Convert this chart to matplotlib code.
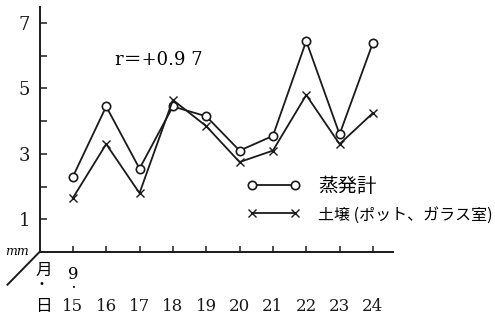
import matplotlib
matplotlib.use("Agg")
import matplotlib.pyplot as plt

# 9月15日～24日の蒸発量 (mm)
days = [15, 16, 17, 18, 19, 20, 21, 22, 23, 24]
evaporimeter = [2.3, 4.45, 2.55, 4.45, 4.15, 3.1, 3.55, 6.45, 3.6, 6.4]
soil_pot = [1.65, 3.3, 1.8, 4.65, 3.85, 2.75, 3.1, 4.8, 3.3, 4.25]
r_text = "r＝+0.9 7"
label_evap = "蒸発計"
label_soil = "土壌 (ポット、ガラス室)"

JP = ["Noto Sans CJK JP", "DejaVu Sans"]
NUM = ["DejaVu Serif", "Noto Sans CJK JP"]

fig = plt.figure(figsize=(4.95, 3.21), dpi=100)
ax = fig.add_axes([0.0798, 0.215, 0.714, 0.764])
ax.set_xlim(14, 24.6)
ax.set_ylim(0, 7.5)

lw = 1.3
ax.plot(days, evaporimeter, color="#1a1a1a", lw=lw, marker="o", ms=6,
        mfc="white", mec="#1a1a1a", mew=1.2, label=label_evap, clip_on=False)
ax.plot(days, soil_pot, color="#1a1a1a", lw=lw, marker="x", ms=6,
        mew=1.0, label=label_soil, clip_on=False)

# 軸
for s in ["top", "right"]:
    ax.spines[s].set_visible(False)
for s in ["left", "bottom"]:
    ax.spines[s].set_linewidth(1.4)
    ax.spines[s].set_color("#1a1a1a")

ax.set_yticks([1, 3, 5, 7])
ax.set_yticks([2, 4, 6], minor=True)
ax.set_yticklabels(["1", "3", "5", "7"], family=NUM, fontsize=13)
ax.tick_params(axis="y", which="both", direction="in", length=5, width=1.1,
               pad=7, colors="#1a1a1a")
ax.set_xticks(days)
ax.set_xticklabels([str(d) for d in days], family=NUM, fontsize=12)
ax.tick_params(axis="x", direction="in", length=4, width=1.1, pad=33,
               colors="#1a1a1a")

# 原点の斜線と単位・月日
ax.plot([14, 13.04], [0, -1.0], color="#1a1a1a", lw=1.4, clip_on=False)
ax.text(13.33, 0.02, "mm", fontsize=9, style="italic", family=NUM,
        ha="center", va="center")
ax.text(14.12, -0.55, "月", fontsize=12, family=JP, ha="center", va="center")
ax.text(14.07, -1.0, "・", fontsize=10, family=JP, ha="center", va="center")
ax.text(14.12, -1.68, "日", fontsize=12, family=JP, ha="center", va="center")
ax.text(15.0, -0.7, "9", fontsize=12, family=NUM, ha="center", va="center")
ax.text(15.0, -1.1, "・", fontsize=7, family=JP, ha="center", va="center")

ax.text(16.25, 5.87, r_text, fontsize=13, family=NUM, ha="left", va="center")

leg = ax.legend(loc="center left", bbox_to_anchor=(0.585, 0.212),
                frameon=False, numpoints=2, handlelength=2.8,
                handletextpad=0.9, labelspacing=0.5, borderpad=0,
                borderaxespad=0, prop={"family": JP, "size": 14})
leg.get_texts()[1].set_fontsize(11.5)

fig.savefig("out.png", dpi=100, facecolor="white")
